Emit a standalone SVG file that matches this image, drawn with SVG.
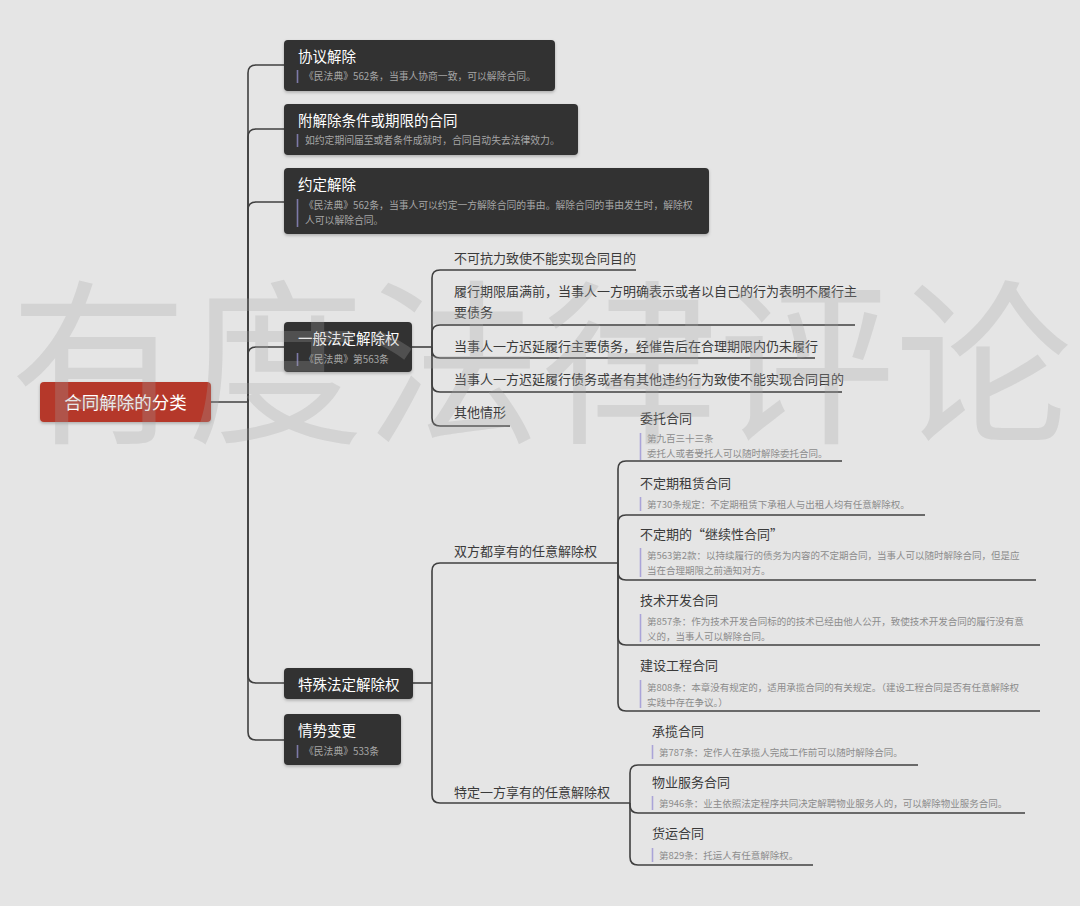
<svg xmlns="http://www.w3.org/2000/svg" width="1080" height="906" viewBox="0 0 1080 906">
<style>
text{font-family:"Noto Sans CJK SC","Noto Sans",sans-serif;}
.box{fill:#303030;}
.t{fill:#ffffff;font-size:14.5px;}
.s{fill:#a6a6a6;font-size:9.8px;}
.bar{stroke:#7d7aa8;stroke-width:1.6;}
.c{fill:#3a3a3a;font-size:13px;}
.ct{fill:#3a3a3a;font-size:13px;}
.cs{fill:#8c8c8c;font-size:9.5px;}
.cbar{stroke:#aaa4d8;stroke-width:1.6;}
.ln{fill:none;stroke:#404040;stroke-width:1.6;}
</style>
<defs>
<filter id="sh" x="-10%" y="-20%" width="120%" height="150%">
<feDropShadow dx="0" dy="1.5" stdDeviation="1.5" flood-color="#000" flood-opacity="0.25"/>
</filter>
</defs>
<rect width="1080" height="906" fill="#e5e5e5"/>

<g id="connectors">
<path class="ln" d="M211,402 H248"/>
<path class="ln" d="M248,402 V73 Q248,65 256,65 H284"/>
<path class="ln" d="M248,402 V137 Q248,129 256,129 H284"/>
<path class="ln" d="M248,402 V210 Q248,202 256,202 H284"/>
<path class="ln" d="M248,402 V355 Q248,347 256,347 H284"/>
<path class="ln" d="M248,402 V675 Q248,683 256,683 H284"/>
<path class="ln" d="M248,402 V732 Q248,740 256,740 H284"/>

<path class="ln" d="M412,347 H432"/>
<path class="ln" d="M432,347 V278 Q432,270 440,270 H636"/>
<path class="ln" d="M432,347 V333 Q432,325 440,325 H855"/>
<path class="ln" d="M432,347 V350 Q432,358 440,358 H815"/>
<path class="ln" d="M432,347 V384 Q432,392 440,392 H842"/>
<path class="ln" d="M432,347 V418 Q432,426 440,426 H510"/>

<path class="ln" d="M413,683 H432"/>
<path class="ln" d="M432,683 V571 Q432,563 440,563 H618"/>
<path class="ln" d="M432,683 V795 Q432,803 440,803 H630"/>

<path class="ln" d="M618,563 V469 Q618,461 626,461 H842"/>
<path class="ln" d="M618,563 V523 Q618,515 626,515 H925"/>
<path class="ln" d="M618,563 V572 Q618,580 626,580 H1036"/>
<path class="ln" d="M618,563 V637 Q618,645 626,645 H1040"/>
<path class="ln" d="M618,563 V703 Q618,711 626,711 H1040"/>

<path class="ln" d="M630,803 V773 Q630,765 638,765 H918"/>
<path class="ln" d="M630,803 V805 Q630,813 638,813 H1025"/>
<path class="ln" d="M630,803 V857 Q630,865 638,865 H813"/>
</g>

<g id="root">
<rect x="40" y="382" width="171" height="40" rx="4" fill="#b5392a" filter="url(#sh)"/>
<text x="125.5" y="408.5" text-anchor="middle" fill="#ffffff" font-size="17.5">合同解除的分类</text>
</g>

<g id="n-xieyi">
<rect class="box" x="284" y="40" width="271" height="51" rx="4" filter="url(#sh)"/>
<text class="t" x="298" y="61.5">协议解除</text>
<line class="bar" x1="297.5" y1="70" x2="297.5" y2="83"/>
<text class="s" x="304" y="79.8">《民法典》562条，当事人协商一致，可以解除合同。</text>
</g>

<g id="n-fujiechu">
<rect class="box" x="284" y="104" width="294" height="51" rx="4" filter="url(#sh)"/>
<text class="t" x="298" y="125.5">附解除条件或期限的合同</text>
<line class="bar" x1="297.5" y1="134" x2="297.5" y2="147"/>
<text class="s" x="305" y="143.8">如约定期间届至或者条件成就时，合同自动失去法律效力。</text>
</g>

<g id="n-yueding">
<rect class="box" x="284" y="168" width="425" height="66" rx="4" filter="url(#sh)"/>
<text class="t" x="298" y="189.5">约定解除</text>
<line class="bar" x1="297.5" y1="199" x2="297.5" y2="227"/>
<text class="s" x="304" y="208.8">《民法典》562条，当事人可以约定一方解除合同的事由。解除合同的事由发生时，解除权</text>
<text class="s" x="305" y="223.8">人可以解除合同。</text>
</g>

<g id="n-yiban">
<rect class="box" x="284" y="322" width="128" height="50" rx="4" filter="url(#sh)"/>
<text class="t" x="298" y="343.5">一般法定解除权</text>
<line class="bar" x1="297.5" y1="353" x2="297.5" y2="366"/>
<text class="s" x="304" y="362.8">《民法典》第563条</text>
</g>

<g id="n-yiban-1"><text class="c" x="454" y="263">不可抗力致使不能实现合同目的</text></g>
<g id="n-yiban-2">
<text class="c" x="454" y="296">履行期限届满前，当事人一方明确表示或者以自己的行为表明不履行主</text>
<text class="c" x="454" y="317">要债务</text>
</g>
<g id="n-yiban-3"><text class="c" x="454" y="351">当事人一方迟延履行主要债务，经催告后在合理期限内仍未履行</text></g>
<g id="n-yiban-4"><text class="c" x="454" y="384">当事人一方迟延履行债务或者有其他违约行为致使不能实现合同目的</text></g>
<g id="n-yiban-5"><text class="c" x="454" y="417">其他情形</text></g>

<g id="n-teshu">
<rect class="box" x="284" y="668" width="129" height="31" rx="4" filter="url(#sh)"/>
<text class="t" x="298" y="689.5">特殊法定解除权</text>
</g>

<g id="n-qingshi">
<rect class="box" x="284" y="714" width="117" height="51" rx="4" filter="url(#sh)"/>
<text class="t" x="298" y="735.5">情势变更</text>
<line class="bar" x1="297.5" y1="745" x2="297.5" y2="758"/>
<text class="s" x="304" y="754.8">《民法典》533条</text>
</g>

<g id="n-shuangfang"><text class="c" x="454" y="556">双方都享有的任意解除权</text></g>
<g id="n-teding"><text class="c" x="454" y="797">特定一方享有的任意解除权</text></g>

<g id="n-weituo">
<text class="ct" x="640" y="423">委托合同</text>
<line class="cbar" x1="640.5" y1="433" x2="640.5" y2="460"/>
<text class="cs" x="647" y="441.5">第九百三十三条</text>
<text class="cs" x="647" y="456.5">委托人或者受托人可以随时解除委托合同。</text>
</g>

<g id="n-zulin">
<text class="ct" x="640" y="488">不定期租赁合同</text>
<line class="cbar" x1="640.5" y1="497" x2="640.5" y2="511"/>
<text class="cs" x="647" y="507.6">第730条规定：不定期租赁下承租人与出租人均有任意解除权。</text>
</g>

<g id="n-jixu">
<text class="ct" x="640" y="539">不定期的“继续性合同”</text>
<line class="cbar" x1="640.5" y1="548" x2="640.5" y2="577"/>
<text class="cs" x="647" y="558.6">第563第2款：以持续履行的债务为内容的不定期合同，当事人可以随时解除合同，但是应</text>
<text class="cs" x="647" y="573.6">当在合理期限之前通知对方。</text>
</g>

<g id="n-jishu">
<text class="ct" x="640" y="605">技术开发合同</text>
<line class="cbar" x1="640.5" y1="614" x2="640.5" y2="642"/>
<text class="cs" x="647" y="624.6">第857条：作为技术开发合同标的的技术已经由他人公开，致使技术开发合同的履行没有意</text>
<text class="cs" x="647" y="639.6">义的，当事人可以解除合同。</text>
</g>

<g id="n-jianshe">
<text class="ct" x="640" y="670">建设工程合同</text>
<line class="cbar" x1="640.5" y1="680" x2="640.5" y2="708"/>
<text class="cs" x="647" y="690.6">第808条：本章没有规定的，适用承揽合同的有关规定。（建设工程合同是否有任意解除权</text>
<text class="cs" x="647" y="705.6">实践中存在争议。）</text>
</g>

<g id="n-chenglan">
<text class="ct" x="652" y="736">承揽合同</text>
<line class="cbar" x1="652.5" y1="745" x2="652.5" y2="759"/>
<text class="cs" x="659" y="755.6">第787条：定作人在承揽人完成工作前可以随时解除合同。</text>
</g>

<g id="n-wuye">
<text class="ct" x="652" y="787">物业服务合同</text>
<line class="cbar" x1="652.5" y1="796" x2="652.5" y2="810"/>
<text class="cs" x="659" y="806.6">第946条：业主依照法定程序共同决定解聘物业服务人的，可以解除物业服务合同。</text>
</g>

<g id="n-huoyun">
<text class="ct" x="652" y="838">货运合同</text>
<line class="cbar" x1="652.5" y1="848" x2="652.5" y2="862"/>
<text class="cs" x="659" y="858.6">第829条：托运人有任意解除权。</text>
</g>

<g id="watermark">
<text x="10" y="430" font-size="177" fill="#a1a1a1" fill-opacity="0.27">有度法律评论</text>
</g>
</svg>
